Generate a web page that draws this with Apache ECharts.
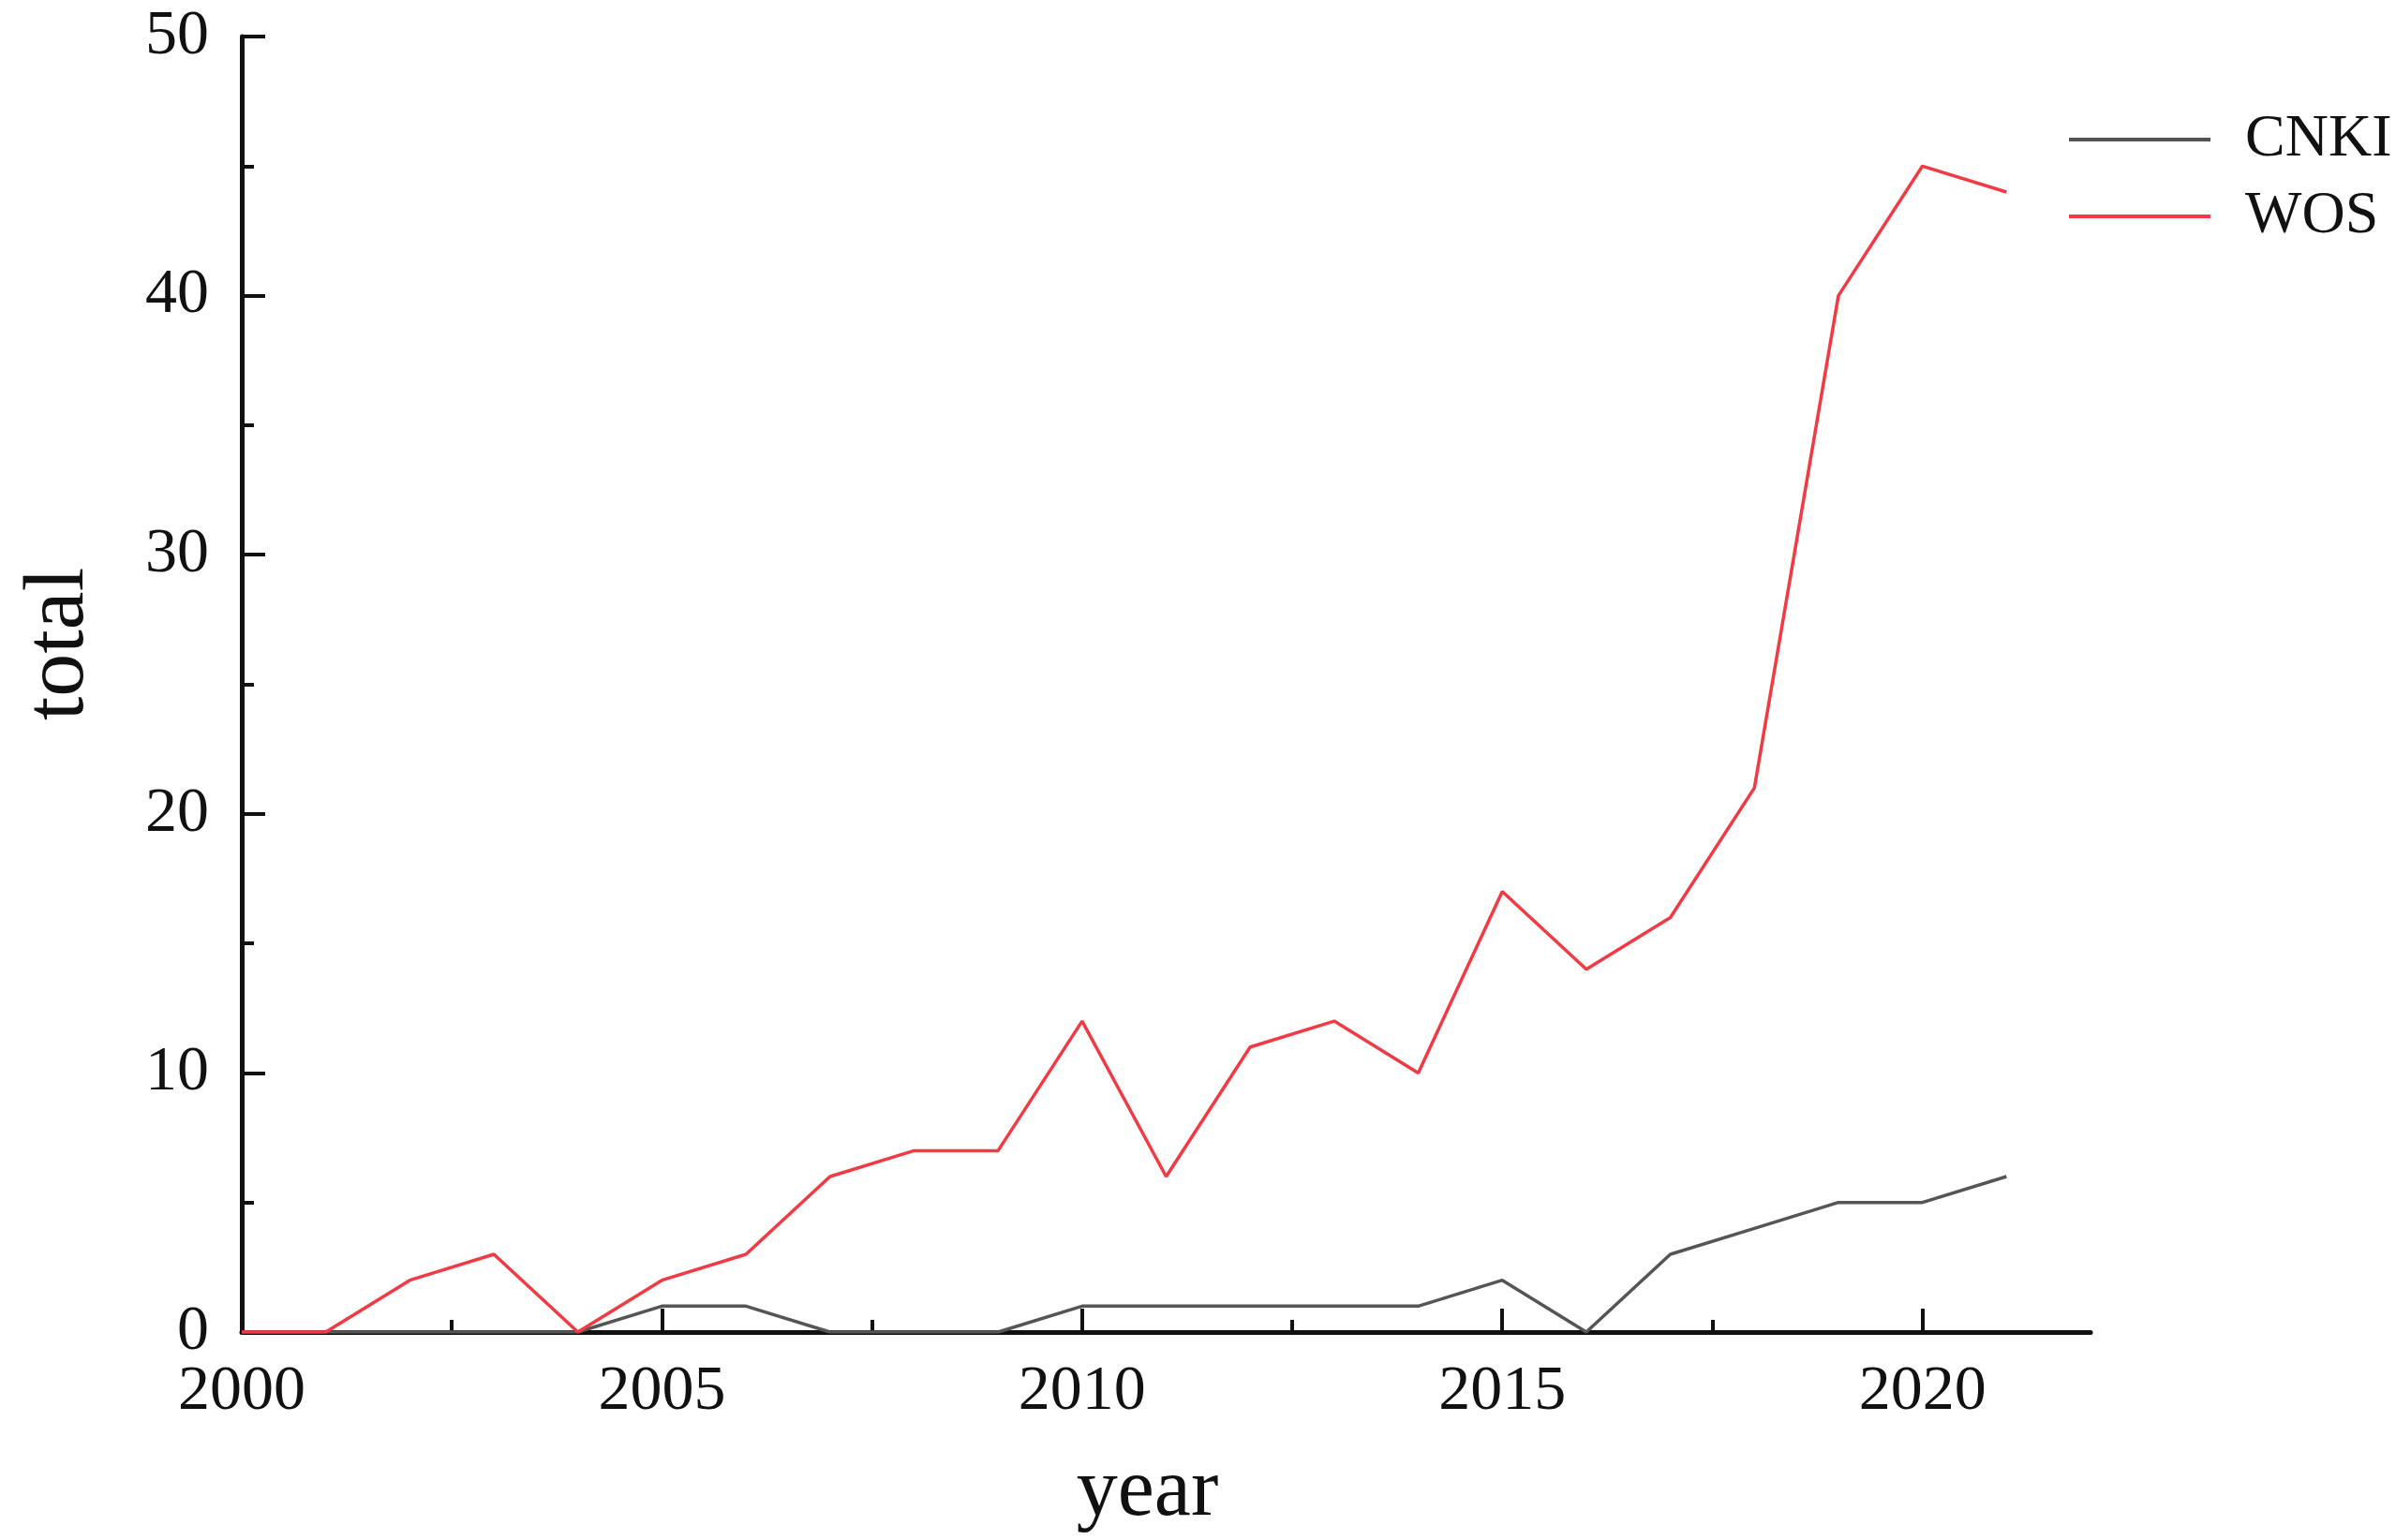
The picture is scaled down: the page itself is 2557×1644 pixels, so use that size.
<!DOCTYPE html>
<html>
<head>
<meta charset="utf-8">
<script src="https://cdn.jsdelivr.net/npm/echarts@6/dist/echarts.min.js"></script>
<style>
  html, body { margin: 0; padding: 0; background: #fff; }
  #chart { width: 2557px; height: 1644px; }
</style>
</head>
<body>
<div id="chart"></div>
<script>
/* ========== 年度发文量：CNKI vs WOS ========== */

const YEARS = [2000, 2001, 2002, 2003, 2004, 2005, 2006, 2007, 2008, 2009, 2010,
               2011, 2012, 2013, 2014, 2015, 2016, 2017, 2018, 2019, 2020, 2021];
const CNKI = [0, 0, 0, 0, 0, 1, 1, 0, 0, 0, 1, 1, 1, 1, 1, 2, 0, 3, 4, 5, 5, 6];
const WOS = [0, 0, 2, 3, 0, 2, 3, 6, 7, 7, 12, 6, 11, 12, 10, 17, 14, 16, 21, 40, 45, 44];
const X_MAJOR = [2000, 2005, 2010, 2015, 2020];
const X_MINOR = [2002.5, 2007.5, 2012.5, 2017.5];

const FONT = "'Liberation Serif', 'Times New Roman', serif";
const INK = "#111";

const chart = echarts.init(document.getElementById("chart"));

const xBase = {
    type: "value",
    min: 2000,
    max: 2022,
    interval: 5,
    splitLine: { show: false },
};

chart.setOption({
    animation: false,
    backgroundColor: "#fff",
    grid: { left: 258, right: 326, top: 39, bottom: 222 },
    legend: {
        left: 2203,
        top: 110,
        orient: "vertical",
        icon: "rect",
        itemWidth: 151,
        itemHeight: 4,
        itemGap: 14,
        textStyle: { fontFamily: FONT, fontSize: 64, color: INK, padding: [0, 0, 0, 32], lineHeight: 68 },
        data: ["CNKI", "WOS"],
    },
    xAxis: [
        {
            ...xBase,
            name: "year",
            nameLocation: "middle",
            nameGap: 128,
            nameTextStyle: { fontFamily: FONT, fontSize: 88, color: INK, padding: [0, 40, 0, 0] },
            axisLine: { lineStyle: { color: "#111", width: 5 } },
            axisTick: { inside: true, length: 25, lineStyle: { color: "#111", width: 4 }, customValues: X_MAJOR },
            axisLabel: {
                fontFamily: FONT, fontSize: 68, color: INK, margin: 30, customValues: X_MAJOR,
                formatter: v => String(v),
            },
        },
        {
            // 次刻度
            ...xBase,
            position: "bottom",
            axisLine: { show: false },
            axisTick: { inside: true, length: 13, lineStyle: { color: "#111", width: 4 }, customValues: X_MINOR },
            axisLabel: { show: false },
        },
    ],
    yAxis: {
        type: "value",
        min: 0,
        max: 50,
        interval: 10,
        name: "total",
        nameLocation: "middle",
        nameGap: 148,
        nameRotate: 90,
        nameTextStyle: { fontFamily: FONT, fontSize: 92, color: INK, padding: [0, 0, 0, 86] },
        splitLine: { show: false },
        axisLine: { show: true, lineStyle: { color: "#111", width: 5 } },
        axisTick: { show: true, inside: true, length: 25, lineStyle: { color: "#111", width: 4 } },
        minorTick: { show: true, splitNumber: 2, length: 13, lineStyle: { color: "#111", width: 4 } },
        axisLabel: { fontFamily: FONT, fontSize: 68, color: INK, margin: 35 },
    },
    series: [
        {
            name: "CNKI",
            type: "line",
            symbol: "none",
            data: YEARS.map((y, i) => [y, CNKI[i]]),
            lineStyle: { color: "#555555", width: 3.5 },
            itemStyle: { color: "#555555" },
        },
        {
            name: "WOS",
            type: "line",
            symbol: "none",
            data: YEARS.map((y, i) => [y, WOS[i]]),
            lineStyle: { color: "#F23A44", width: 3.5 },
            itemStyle: { color: "#F23A44" },
        },
    ],
});
</script>
</body>
</html>
